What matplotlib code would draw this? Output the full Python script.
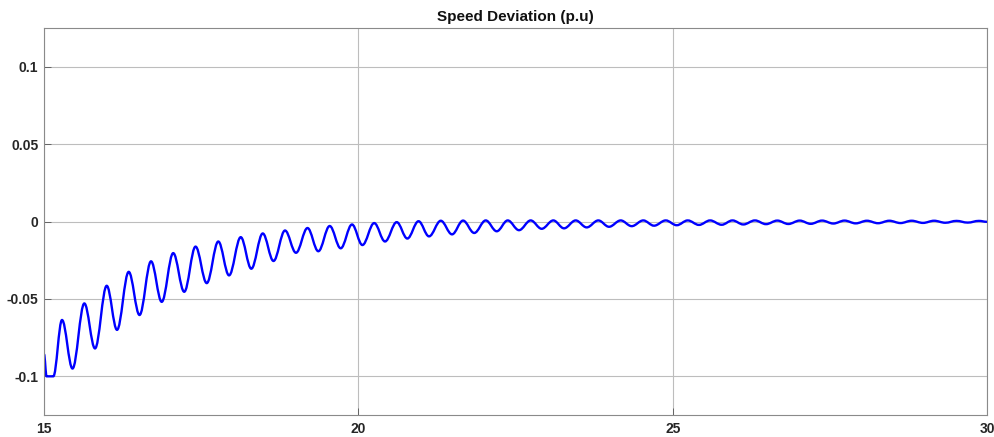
import matplotlib
matplotlib.use("Agg")
import matplotlib.pyplot as plt
from matplotlib.path import Path
from matplotlib.patches import PathPatch

plt.rcParams['font.family'] = ['Liberation Sans', 'DejaVu Sans']

# ---- data (extrema of the oscillation) ----
start_t = [15.000, 15.040, 15.148]
start_v = [-0.0858, -0.1000, -0.1000]

peak_t = [15.286, 15.641, 15.997, 16.347, 16.702, 17.055, 17.410, 17.772, 18.129, 18.479,
          18.833, 19.191, 19.544, 19.899, 20.252, 20.610, 20.957, 21.311, 21.665, 22.026,
          22.376, 22.741, 23.101, 23.457, 23.817, 24.173, 24.532, 24.889, 25.239, 25.595,
          25.951, 26.308, 26.664, 27.020, 27.376, 27.733, 28.089, 28.445, 28.801, 29.158,
          29.514, 29.870]
peak_v = [-0.0636, -0.0529, -0.0415, -0.0325, -0.0257, -0.0204, -0.0162, -0.0129, -0.0101, -0.0077,
          -0.0058, -0.0042, -0.0029, -0.0019, -0.0010, -0.0004, 0.0002, 0.0005, 0.0006, 0.0007,
          0.0007, 0.0007, 0.0007, 0.0007, 0.0007, 0.0007, 0.0007, 0.0007, 0.0007, 0.0007,
          0.0007, 0.0007, 0.0006, 0.0006, 0.0006, 0.0006, 0.0005, 0.0005, 0.0005, 0.0005,
          0.0004, 0.0004]

trough_t = [15.453, 15.811, 16.161, 16.519, 16.872, 17.230, 17.588, 17.943, 18.297, 18.650,
            19.008, 19.363, 19.719, 20.064, 20.424, 20.779, 21.124, 21.490, 21.843, 22.201,
            22.555, 22.916, 23.271, 23.632, 23.987, 24.348, 24.703, 25.064, 25.418, 25.779,
            26.123, 26.484, 26.839, 27.195, 27.555, 27.911, 28.266, 28.623, 28.981, 29.336,
            29.692]
trough_v = [-0.0950, -0.0820, -0.0700, -0.0604, -0.0519, -0.0454, -0.0398, -0.0348, -0.0305, -0.0255,
            -0.0202, -0.0192, -0.0173, -0.0152, -0.0129, -0.0110, -0.0096, -0.0083, -0.0074, -0.0063,
            -0.0056, -0.0047, -0.0044, -0.0038, -0.0034, -0.0030, -0.0027, -0.0024, -0.0022, -0.0021,
            -0.0019, -0.0017, -0.0016, -0.0015, -0.0013, -0.0012, -0.0011, -0.0010, -0.0009, -0.0008,
            -0.0007]

end_t = [30.0]
end_v = [-0.0002]

x_ticks = [15, 20, 25, 30]
x_tick_labels = ['15', '20', '25', '30']
y_ticks = [-0.1, -0.05, 0, 0.05, 0.1]
y_tick_labels = ['-0.1', '-0.05', '0', '0.05', '0.1']
title = 'Speed Deviation (p.u)'

# ---- assemble ordered list of key points ----
pts = sorted(list(zip(start_t, start_v)) + list(zip(peak_t, peak_v)) +
             list(zip(trough_t, trough_v)) + list(zip(end_t, end_v)))

# smooth curve through the extrema: cubic Bezier segments with flat tangents
k = 0.3634
verts = [pts[0]]
codes = [Path.MOVETO]
for (t0, v0), (t1, v1) in zip(pts[:-1], pts[1:]):
    dt = t1 - t0
    verts += [(t0 + k * dt, v0), (t1 - k * dt, v1), (t1, v1)]
    codes += [Path.CURVE4, Path.CURVE4, Path.CURVE4]

fig = plt.figure(figsize=(9.94, 4.37), dpi=100)
ax = fig.add_axes([0.0443, 0.0503, 0.9487, 0.8856])

patch = PathPatch(Path(verts, codes), facecolor='none', edgecolor=(0, 0, 1),
                  linewidth=1.7, joinstyle='round', capstyle='round')
ax.add_patch(patch)

ax.set_xlim(15, 30)
ax.set_ylim(-0.125, 0.125)
ax.set_xticks(x_ticks)
ax.set_xticklabels(x_tick_labels)
ax.set_yticks(y_ticks)
ax.set_yticklabels(y_tick_labels)

ax.grid(True, color='#bdbdbd', linewidth=0.8)
ax.set_axisbelow(True)
for s in ax.spines.values():
    s.set_color('#8a8a8a')
    s.set_linewidth(0.8)

ax.tick_params(direction='in', length=5, width=0.6, color='#555555',
               labelsize=10, labelcolor='#262626', top=False, right=False)
ax.tick_params(axis='x', pad=5)
ax.tick_params(axis='y', pad=4)
for lab in ax.get_xticklabels() + ax.get_yticklabels():
    lab.set_fontweight('bold')

ax.set_title(title, fontsize=11, fontweight='bold', color='#111111', pad=5)

fig.savefig('out.png', dpi=100)
